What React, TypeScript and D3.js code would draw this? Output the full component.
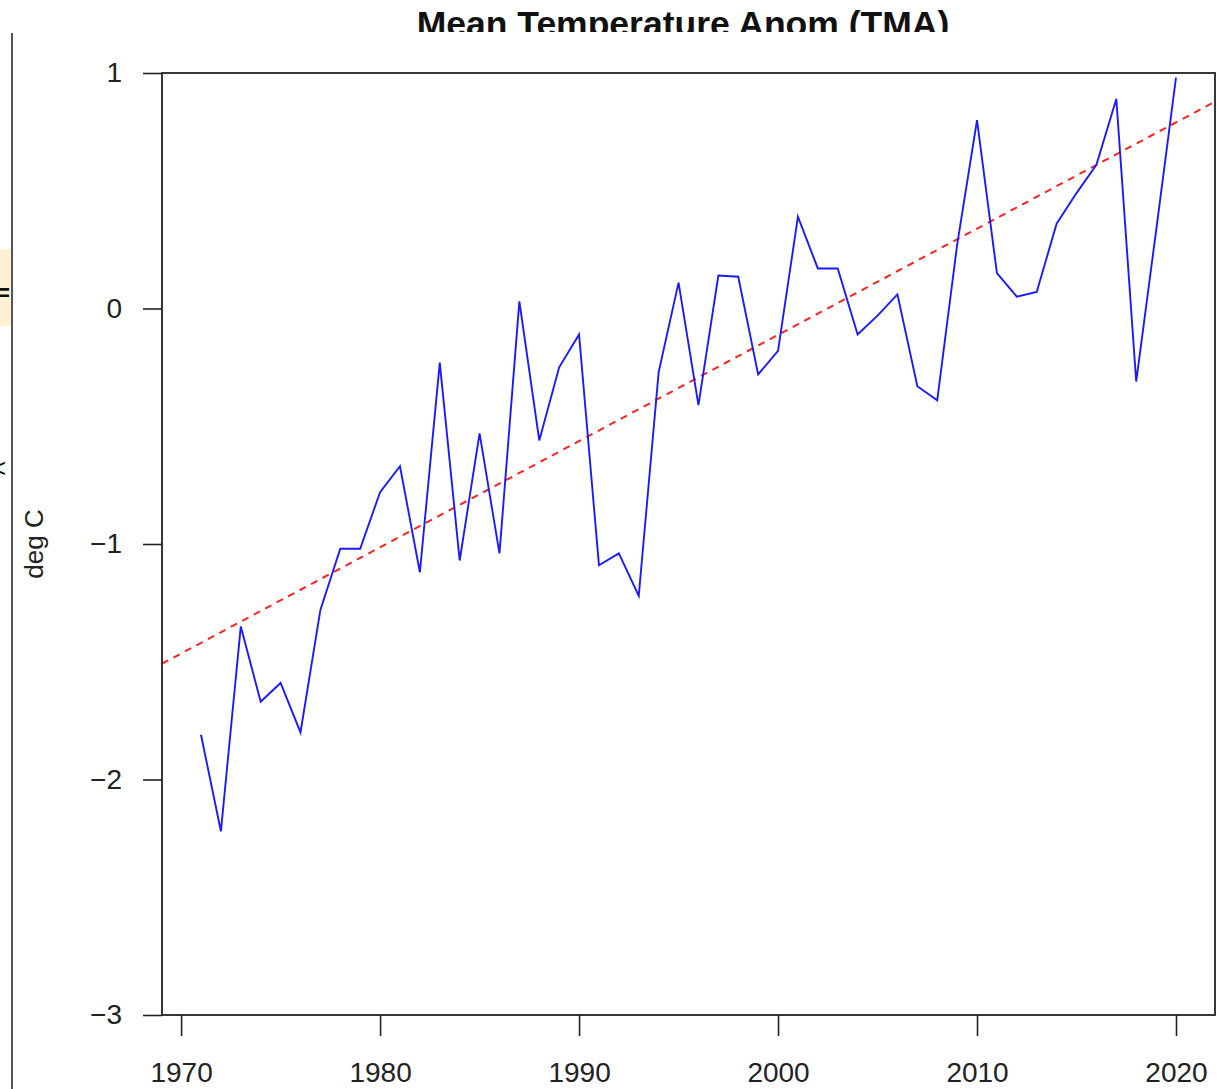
import React, { useEffect, useRef } from 'react';
import * as d3 from 'd3';

// yearly mean temperature anomaly, deg C
const years = [
  1971, 1972, 1973, 1974, 1975, 1976, 1977, 1978, 1979, 1980,
  1981, 1982, 1983, 1984, 1985, 1986, 1987, 1988, 1989, 1990,
  1991, 1992, 1993, 1994, 1995, 1996, 1997, 1998, 1999, 2000,
  2001, 2002, 2003, 2004, 2005, 2006, 2007, 2008, 2009, 2010,
  2011, 2012, 2013, 2014, 2015, 2016, 2017, 2018, 2019, 2020
];
const tma = [
  -1.81, -2.22, -1.35, -1.67, -1.59, -1.8, -1.28, -1.02, -1.02, -0.78,
  -0.67, -1.12, -0.23, -1.07, -0.53, -1.04, 0.03, -0.56, -0.25, -0.11,
  -1.09, -1.04, -1.22, -0.27, 0.11, -0.41, 0.14, 0.135, -0.28, -0.18,
  0.39, 0.17, 0.17, -0.11, -0.03, 0.06, -0.33, -0.39, 0.27, 0.8,
  0.15, 0.05, 0.07, 0.36, 0.49, 0.61, 0.89, -0.31, 0.33, 0.98
];
const yearTicks = [1970, 1980, 1990, 2000, 2010, 2020];
const tempTicks = [1, 0, -1, -2, -3];

// fitted trend as shown on the chart
const trendAt1970 = -1.465;
const trendSlope = 0.0451;

const W = 1229;
const H = 1089;
const font = '"Liberation Sans", Arial, sans-serif';

const App = () => {
  const svgRef = useRef<SVGSVGElement>(null);

  useEffect(() => {
    const svg = d3.select(svgRef.current);
    svg.selectAll('*').remove();

    const margin = { top: 73, right: 14, bottom: 74, left: 162 };
    const left = margin.left;
    const right = W - margin.right;
    const top = margin.top;
    const bottom = H - margin.bottom;

    // R style 4% padding on x
    const [x0, x1] = d3.extent(years) as [number, number];
    const pad = (x1 - x0) * 0.04;
    const x = d3.scaleLinear().domain([x0 - pad, x1 + pad]).range([left, right]);
    const y = d3.scaleLinear().domain([-3, 1]).range([bottom, top]);

    // bits of the neighbouring window on the left edge
    svg.append('rect').attr('x', 0).attr('y', 249).attr('width', 11).attr('height', 77).attr('fill', '#fdf0d5');
    svg.append('text').attr('x', -4).attr('y', 301).attr('font-family', font).attr('font-weight', 'bold').attr('font-size', 24).attr('fill', '#111').text('=');
    svg.append('text').attr('x', -9).attr('y', 477).attr('font-family', font).attr('font-size', 26).attr('fill', '#111').text('<');
    svg.append('line').attr('x1', 12).attr('x2', 12).attr('y1', 33).attr('y2', H).attr('stroke', '#555').attr('stroke-width', 2);

    // title, cut off at the bottom like the screenshot
    svg.append('clipPath').attr('id', 'titleclip')
      .append('rect').attr('x', 0).attr('y', 0).attr('width', W).attr('height', 32);
    svg.append('text')
      .attr('clip-path', 'url(#titleclip)')
      .attr('x', 683)
      .attr('y', 36)
      .attr('text-anchor', 'middle')
      .attr('font-family', font)
      .attr('font-weight', 'bold')
      .attr('font-size', 35.5)
      .attr('fill', '#111')
      .text('Mean Temperature Anom (TMA)');

    // axes
    const xAxis = svg.append('g')
      .attr('transform', `translate(0, ${bottom})`)
      .call(d3.axisBottom(x).tickValues(yearTicks).tickFormat(d3.format('d')).tickSize(21).tickPadding(26));
    xAxis.select('.domain').remove();

    const yAxis = svg.append('g')
      .attr('transform', `translate(${left}, 0)`)
      .call(d3.axisLeft(y).tickValues(tempTicks).tickFormat(d => d3.format('d')(d as number).replace('-', '\u2212')).tickSize(19).tickPadding(21));
    yAxis.select('.domain').remove();

    svg.selectAll('.tick line').attr('stroke', '#222').attr('stroke-width', 1.6);
    svg.selectAll('.tick text')
      .attr('font-family', font)
      .attr('font-size', 28)
      .attr('fill', '#222');
    xAxis.selectAll('.tick text').attr('dy', '0.71em');

    svg.append('text')
      .attr('transform', `translate(43, ${(top + bottom) / 2}) rotate(-90)`)
      .attr('text-anchor', 'middle')
      .attr('font-family', font)
      .attr('font-size', 26)
      .attr('fill', '#222')
      .text('deg C');

    // plot region
    svg.append('clipPath').attr('id', 'plotclip')
      .append('rect').attr('x', left).attr('y', top).attr('width', right - left).attr('height', bottom - top);

    const [d0, d1] = x.domain();
    const trend = d3.line<number>()
      .x(d => x(d))
      .y(d => y(trendAt1970 + trendSlope * (d - 1970)));
    svg.append('path')
      .datum([d0, d1])
      .attr('clip-path', 'url(#plotclip)')
      .attr('d', trend)
      .attr('fill', 'none')
      .attr('stroke', '#ff2020')
      .attr('stroke-width', 2)
      .attr('stroke-dasharray', '7,6');

    const line = d3.line<number>()
      .x((d, i) => x(years[i]))
      .y(d => y(d));
    svg.append('path')
      .datum(tma)
      .attr('d', line)
      .attr('fill', 'none')
      .attr('stroke', '#1a1aff')
      .attr('stroke-width', 1.9)
      .attr('stroke-linejoin', 'miter');

    svg.append('rect')
      .attr('x', left)
      .attr('y', top)
      .attr('width', right - left)
      .attr('height', bottom - top)
      .attr('fill', 'none')
      .attr('stroke', '#222')
      .attr('stroke-width', 1.8);
  }, []);

  return (
    <svg
      ref={svgRef}
      width={W}
      height={H}
      style={{ position: 'absolute', left: 0, top: 0, background: '#fff' }}
    />
  );
};

export default App;
